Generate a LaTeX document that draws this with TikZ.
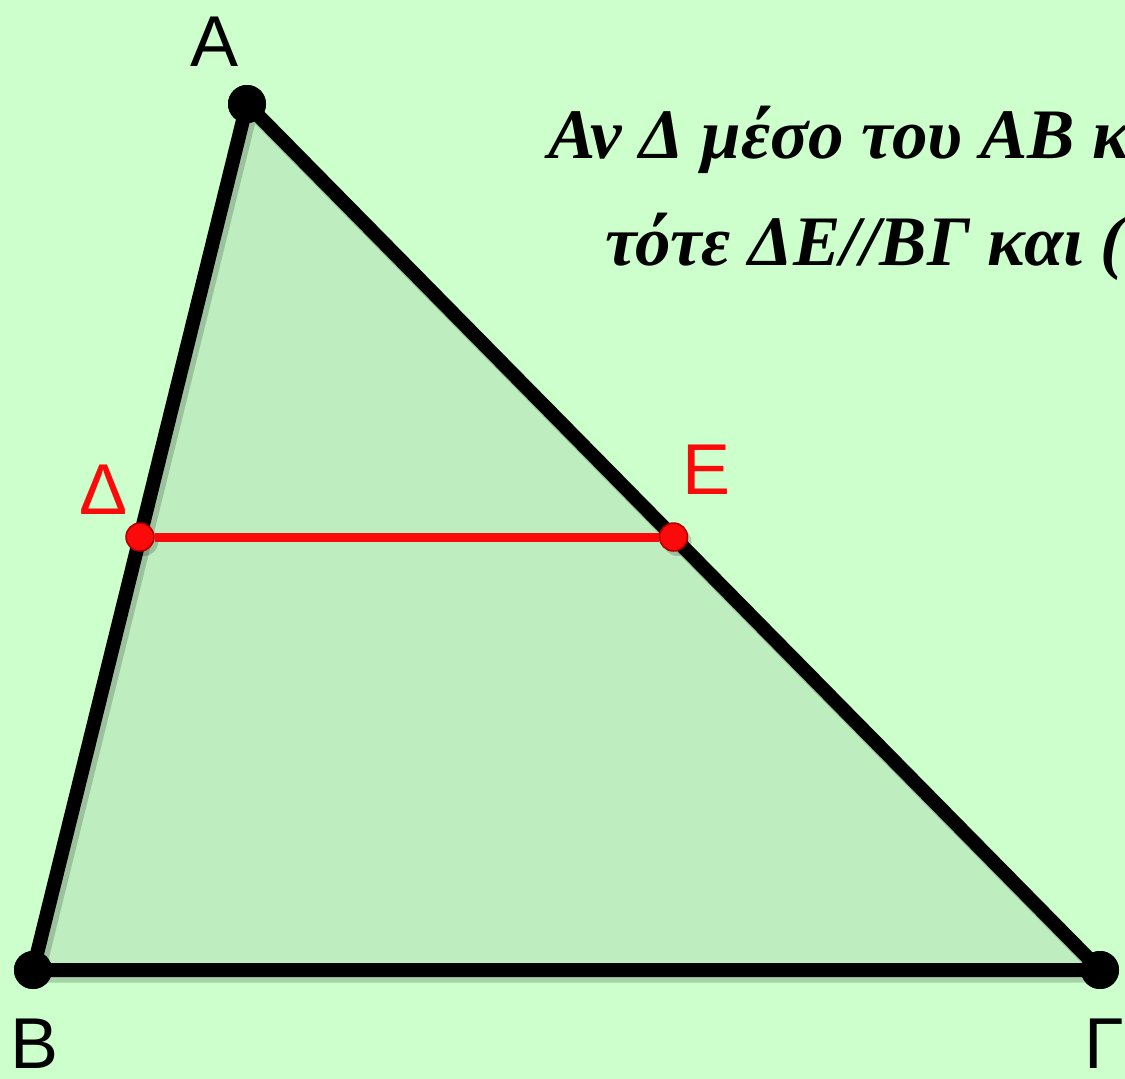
\documentclass[tikz,border=0pt]{standalone}
\usepackage{fontspec}
\usetikzlibrary{calc}
\setmainfont{Liberation Serif}
\newfontfamily\lblfont{Liberation Sans}
\definecolor{bgc}{RGB}{204,255,204}
\definecolor{trif}{RGB}{190,237,192}
\definecolor{redl}{RGB}{250,10,10}
\begin{document}
\begin{tikzpicture}[x=1pt,y=-1pt,
  blackdot/.style={circle,fill=black,minimum size=38pt,inner sep=0pt},
  reddot/.style={circle,fill=redl,draw=red!70!black,line width=1.5pt,minimum size=28pt,inner sep=0pt},
  edge/.style={line width=14pt,black,line cap=round,line join=round},
  redge/.style={line width=9pt,redl},
  shadowline/.style={line width=15pt,black,opacity=0.18,line cap=round,line join=round},
  vlabel/.style={font=\lblfont\fontsize{72}{72}\selectfont,inner sep=0pt,anchor=base},
  thm/.style={font=\bfseries\itshape\fontsize{71}{71}\selectfont,inner sep=0pt,anchor=base west}]
\fill[bgc] (0,0) rectangle (1125,1079);
\useasboundingbox (0,0) rectangle (1125,1079);
% points
\coordinate (pA) at (247,104);
\coordinate (pB) at (33,970);
\coordinate (pG) at (1100,970);
\coordinate (pD) at ($(pA)!0.5!(pB)$);
\coordinate (pE) at ($(pA)!0.5!(pG)$);
% fill
\fill[trif] (pA) -- (pB) -- (pG) -- cycle;
% shadows
\draw[shadowline,transform canvas={shift={(4pt,-5pt)}}] (pA) -- (pB) -- (pG) -- cycle;
\fill[black,opacity=0.18,transform canvas={shift={(4pt,-5pt)}}] (pD) circle (14pt) (pE) circle (14pt);
% vertices and sides
\node[blackdot] (A) at (pA) {};
\node[blackdot] (B) at (pB) {};
\node[blackdot] (G) at (pG) {};
\draw[edge] (A.center) -- (B.center) -- (G.center) -- cycle;
\node[blackdot] at (pA) {};
\node[blackdot] at (pB) {};
\node[blackdot] at (pG) {};
% midsegment
\node[reddot] (D) at (pD) {};
\node[reddot] (E) at (pE) {};
\draw[redge] (D) -- (E);
% labels
\node[vlabel] (lA) at (215,66) {Α};
\node[vlabel] (lB) at (35,1068) {Β};
\node[vlabel] (lG) at (1104,1068) {Γ};
\node[vlabel,text=redl] (lD) at (104,514) {Δ};
\node[vlabel,text=redl] (lE) at (707,494) {Ε};
% theorem text (cut off at the right edge)
\begin{scope}
\clip (0,0) rectangle (1125,1079);
\node[thm] (t1) at (548,158) {Αν Δ μέσο του ΑΒ κ};
\node[thm] (t2) at (605,265) {τότε ΔΕ//ΒΓ και (};
\end{scope}
\end{tikzpicture}
\end{document}
